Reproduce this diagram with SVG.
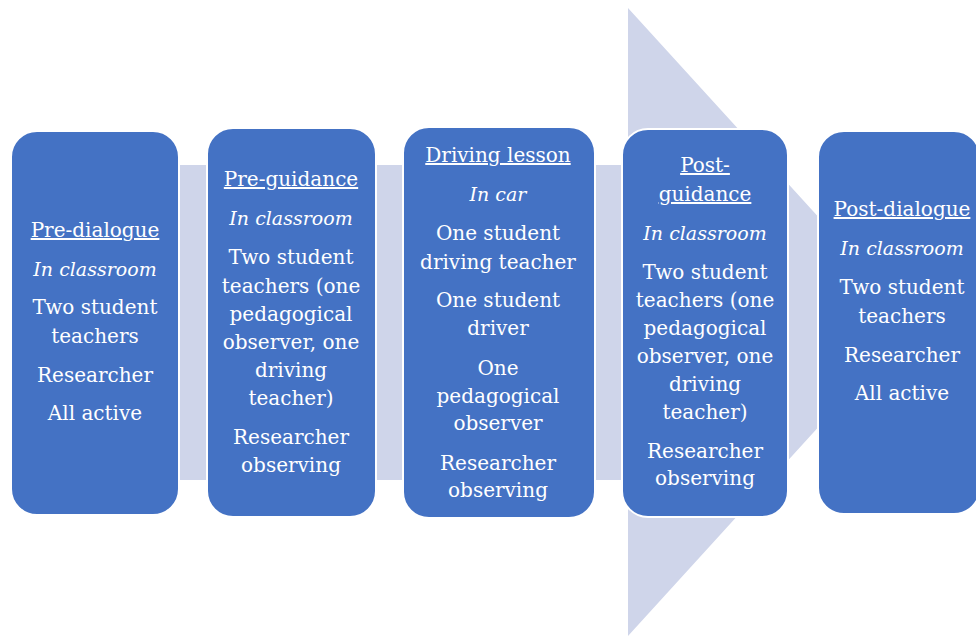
<svg xmlns="http://www.w3.org/2000/svg" width="976" height="637" viewBox="0 0 976 637">
<style>
.box{fill:#4472C4;stroke:#FFFFFF;stroke-width:2}
text{font-family:"DejaVu Serif","Liberation Serif",serif;font-size:20px;fill:#FFFFFF;text-anchor:middle}
.t{text-decoration:underline}
.i{font-style:italic;font-size:19px}
</style>
<rect width="976" height="637" fill="#FFFFFF"/>
<g id="connectors">
<polygon points="14,165 628,165 628,8 914,322 628,636 628,480 14,480" fill="#CFD5EA"/>
</g>
<g id="pre-dialogue">
<rect class="box" x="11" y="131" width="168" height="384" rx="26"/>
<text x="95" y="237" class="t">Pre-dialogue</text>
<text x="95" y="276" class="i">In classroom</text>
<text x="95" y="314">Two student</text>
<text x="95" y="343">teachers</text>
<text x="95" y="382">Researcher</text>
<text x="95" y="420">All active</text>
</g>
<g id="pre-guidance">
<rect class="box" x="207" y="128" width="169" height="389" rx="26"/>
<text x="291" y="186" class="t">Pre-guidance</text>
<text x="291" y="225" class="i">In classroom</text>
<text x="291" y="264">Two student</text>
<text x="291" y="293">teachers (one</text>
<text x="291" y="321">pedagogical</text>
<text x="291" y="349">observer, one</text>
<text x="291" y="377">driving</text>
<text x="291" y="405">teacher)</text>
<text x="291" y="444">Researcher</text>
<text x="291" y="472">observing</text>
</g>
<g id="driving-lesson">
<rect class="box" x="403" y="127" width="192" height="391" rx="26"/>
<text x="498" y="162" class="t">Driving lesson</text>
<text x="498" y="201" class="i">In car</text>
<text x="498" y="240">One student</text>
<text x="498" y="269">driving teacher</text>
<text x="498" y="307">One student</text>
<text x="498" y="335">driver</text>
<text x="498" y="375">One</text>
<text x="498" y="403">pedagogical</text>
<text x="498" y="430">observer</text>
<text x="498" y="470">Researcher</text>
<text x="498" y="497">observing</text>
</g>
<g id="post-guidance">
<rect class="box" x="622" y="129" width="166" height="388" rx="26"/>
<text x="705" y="172" class="t">Post-</text>
<text x="705" y="201" class="t">guidance</text>
<text x="705" y="240" class="i">In classroom</text>
<text x="705" y="279">Two student</text>
<text x="705" y="307">teachers (one</text>
<text x="705" y="335">pedagogical</text>
<text x="705" y="363">observer, one</text>
<text x="705" y="391">driving</text>
<text x="705" y="419">teacher)</text>
<text x="705" y="458">Researcher</text>
<text x="705" y="485">observing</text>
</g>
<g id="post-dialogue">
<rect class="box" x="818" y="131" width="162" height="383" rx="26"/>
<text x="902" y="216" class="t">Post-dialogue</text>
<text x="902" y="255" class="i">In classroom</text>
<text x="902" y="294">Two student</text>
<text x="902" y="323">teachers</text>
<text x="902" y="362">Researcher</text>
<text x="902" y="400">All active</text>
</g>
</svg>
